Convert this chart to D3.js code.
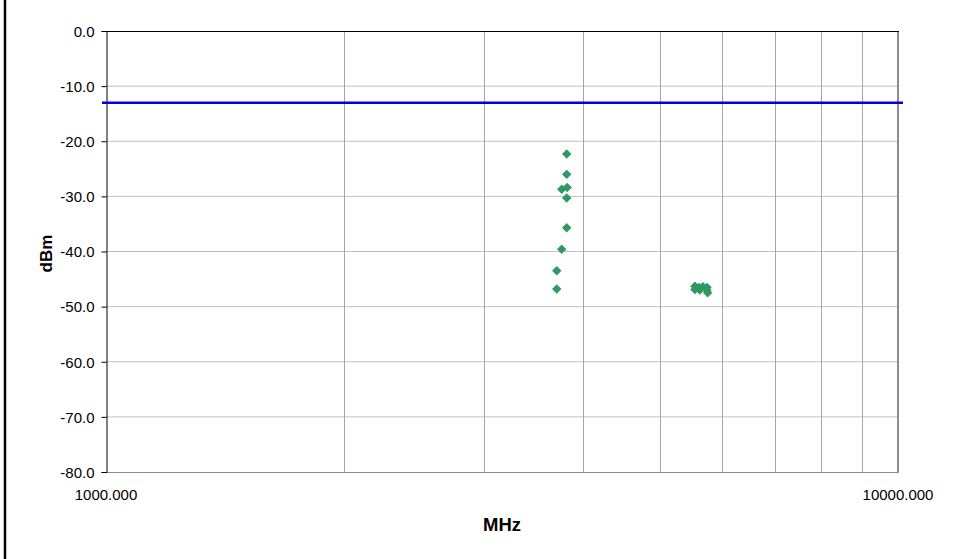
<!DOCTYPE html>
<html><head><meta charset="utf-8">
<script src="https://cdn.jsdelivr.net/npm/d3@7"></script>
<style>body{margin:0;background:#fff}svg{display:block;font-family:"Liberation Sans",Arial,sans-serif}</style>
</head><body>
<svg id="c" width="954" height="559"></svg>
<script>
const freqMHz = [3817, 3817, 3762, 3822, 3817, 3817, 3762, 3708, 3708,
                 5541, 5541, 5606, 5620, 5672, 5739, 5739, 5750];
const levelDbm = [-22.3, -26.0, -28.7, -28.4, -30.3, -35.7, -39.6, -43.5, -46.8,
                  -46.3, -46.9, -46.5, -47.0, -46.4, -46.5, -47.0, -47.5];
const limitDbm = -13;
const yTicks = [0, -10, -20, -30, -40, -50, -60, -70, -80];
const xGrid = [2000, 3000, 4000, 5000, 6000, 7000, 8000, 9000];
const xLabels = [1000, 10000];

const FONT = "Liberation Sans, Arial, sans-serif";
const svg = d3.select("#c");
const L = 106, R = 898, T = 31, B = 472;
const x = d3.scaleLog().domain([1000, 10000]).range([L, R]);
const y = d3.scaleLinear().domain([-80, 0]).range([B, T]);
const fmt1 = d => d.toFixed(1);

// outer border (left edge visible)
svg.append("line").attr("x1", 5).attr("x2", 5).attr("y1", 0).attr("y2", 559)
  .attr("stroke", "#000").attr("stroke-width", 2.5);

// horizontal gridlines
svg.append("g").selectAll("line").data(yTicks.filter(d => d !== 0 && d !== -80)).join("line")
  .attr("x1", L).attr("x2", R).attr("y1", d => y(d)).attr("y2", d => y(d))
  .attr("stroke", "#c0c0c0").attr("stroke-width", 1);
// vertical gridlines
svg.append("g").selectAll("line").data(xGrid).join("line")
  .attr("x1", d => Math.round(x(d)) + 0.5).attr("x2", d => Math.round(x(d)) + 0.5)
  .attr("y1", T).attr("y2", B)
  .attr("stroke", "#a6a6a6").attr("stroke-width", 1);

// plot border right & bottom (gray)
svg.append("line").attr("x1", R).attr("x2", R).attr("y1", T).attr("y2", B + 0.5)
  .attr("stroke", "#8c8c8c").attr("stroke-width", 2);
svg.append("line").attr("x1", L).attr("x2", R + 1).attr("y1", B + 0.5).attr("y2", B + 0.5)
  .attr("stroke", "#8c8c8c").attr("stroke-width", 1);

// x axis line at top (black)
svg.append("line").attr("x1", L).attr("x2", R + 1).attr("y1", T + 0.5).attr("y2", T + 0.5)
  .attr("stroke", "#000").attr("stroke-width", 1);

// y axis
const yAxis = d3.axisLeft(y).tickValues(yTicks).tickFormat(fmt1).tickSize(5).tickPadding(7);
const gy = svg.append("g").attr("transform", `translate(${L + 0.5},0)`).call(yAxis)
  .attr("font-size", 15).attr("font-family", FONT);
gy.select(".domain").attr("stroke", "#000");
gy.selectAll(".tick line").attr("stroke", "#000");
gy.selectAll("text").attr("fill", "#000").attr("dy", "0.35em");

// x labels (low position)
svg.append("g").attr("font-size", 15).attr("font-family", FONT)
  .selectAll("text").data(xLabels).join("text")
  .attr("x", d => x(d)).attr("y", 500).attr("text-anchor", "middle")
  .attr("fill", "#000").text(d => d.toFixed(3));

// limit line
svg.append("line").attr("x1", L - 4).attr("x2", R + 5)
  .attr("y1", y(limitDbm)).attr("y2", y(limitDbm))
  .attr("stroke", "#0000dd").attr("stroke-width", 2.5);

// data points (diamonds)
const data = freqMHz.map((f, i) => ({f, v: levelDbm[i]}));
svg.append("g").selectAll("path").data(data).join("path")
  .attr("d", "M0,-4.7L4.7,0L0,4.7L-4.7,0Z")
  .attr("transform", d => `translate(${x(d.f)},${y(d.v)})`)
  .attr("fill", "#2e9962");

// axis titles
svg.append("text").attr("x", 502).attr("y", 531).attr("text-anchor", "middle")
  .attr("font-family", FONT).attr("font-size", 18.5).attr("font-weight", "bold").text("MHz");
svg.append("text").attr("transform", `translate(51.5,253.5) rotate(-90)`).attr("text-anchor", "middle")
  .attr("font-family", FONT).attr("font-size", 17).attr("font-weight", "bold").text("dBm");
</script>
</body></html>
